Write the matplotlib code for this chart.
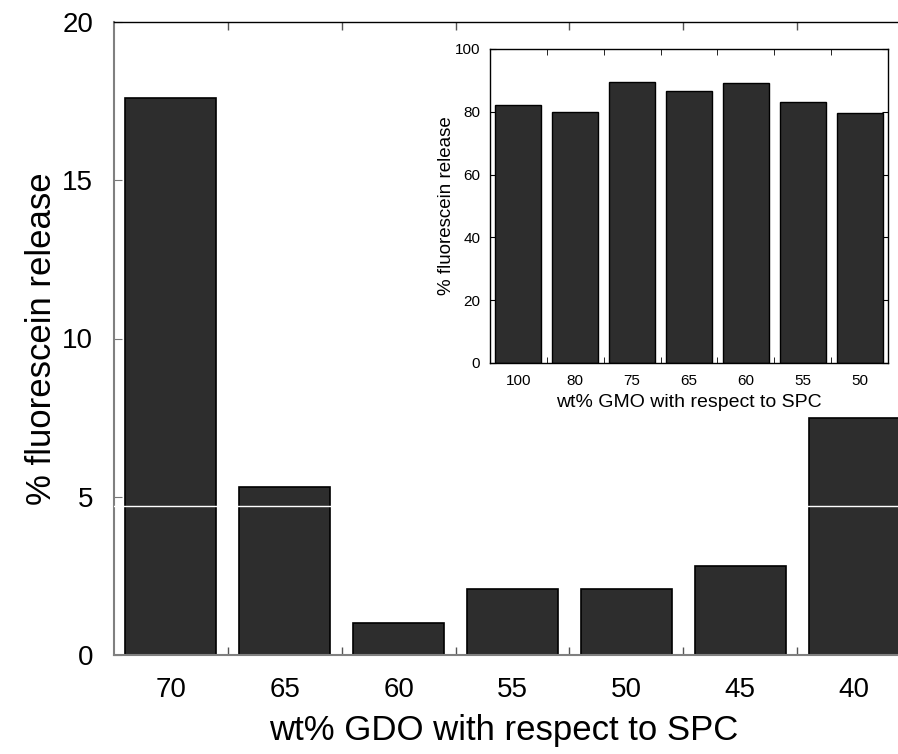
import numpy as np
import matplotlib
matplotlib.use('Agg')
import matplotlib.pyplot as plt
from matplotlib.ticker import FixedLocator

plt.rcParams['font.family'] = ['Liberation Sans', 'DejaVu Sans']

# main chart: GDO
gdo_labels = ['70', '65', '60', '55', '50', '45', '40']
gdo_release = [17.6, 5.3, 1.0, 2.08, 2.08, 2.82, 7.48]

# inset: GMO
gmo_labels = ['100', '80', '75', '65', '60', '55', '50']
gmo_release = [82.2, 79.9, 89.5, 86.6, 89.2, 83.1, 79.6]

bar_color = '#2d2d2d'
W, H = 898, 754
fig = plt.figure(figsize=(W / 100, H / 100), dpi=100)


def px_axes(left, right, top, bottom):
    return fig.add_axes([left / W, 1 - bottom / H, (right - left) / W, (bottom - top) / H])


ax = px_axes(114, 911, 22, 655)
x = np.arange(len(gdo_labels))
ax.bar(x, gdo_release, width=0.8, color=bar_color, edgecolor='black', linewidth=1.2, zorder=2)
ax.axhline(4.7, color='white', lw=1, zorder=3)
ax.set_xlim(-0.5, len(gdo_labels) - 0.5)
ax.set_ylim(0, 20)
ax.set_xticks(x)
ax.set_xticklabels(gdo_labels)
ax.xaxis.set_minor_locator(FixedLocator(x[:-1] + 0.5))
ax.tick_params(axis='x', which='major', length=0, pad=16, labelsize=20)
ax.tick_params(axis='x', which='minor', direction='in', length=6, top=True, width=1, color='#555555')
ax.set_yticks([0, 5, 10, 15, 20])
ax.tick_params(axis='y', direction='in', length=6, pad=15, labelsize=20, color='#777777')
ax.spines['left'].set_color('#808080')
ax.spines['left'].set_linewidth(1.5)
ax.spines['bottom'].set_color('#808080')
ax.spines['bottom'].set_linewidth(1.5)
ax.spines['top'].set_linewidth(1)
ax.set_xlabel('wt% GDO with respect to SPC', fontsize=25)
ax.xaxis.set_label_coords(0.489, -0.093, transform=ax.transAxes)
ax.xaxis.label.set_va('top')
ax.set_ylabel('% fluorescein release', fontsize=25, labelpad=3)

ins = px_axes(490, 888, 49, 363)
xi = np.arange(len(gmo_labels))
ins.bar(xi, gmo_release, width=0.81, color=bar_color, edgecolor='black', linewidth=1, zorder=2)
ins.set_xlim(-0.5, len(gmo_labels) - 0.5)
ins.set_ylim(0, 100)
ins.set_xticks(xi)
ins.set_xticklabels(gmo_labels)
ins.xaxis.set_minor_locator(FixedLocator(xi[:-1] + 0.5))
ins.tick_params(axis='x', which='major', length=0, pad=8, labelsize=11)
ins.tick_params(axis='x', which='minor', direction='in', length=4, top=True)
ins.set_yticks([0, 20, 40, 60, 80, 100])
ins.tick_params(axis='y', direction='in', length=4, right=True, pad=7, labelsize=11)
for s in ins.spines.values():
    s.set_linewidth(1)
ins.set_xlabel('wt% GMO with respect to SPC', fontsize=14, labelpad=4)
ins.set_ylabel('% fluorescein release', fontsize=13.5, labelpad=0)

fig.savefig('out.png', dpi=100)
